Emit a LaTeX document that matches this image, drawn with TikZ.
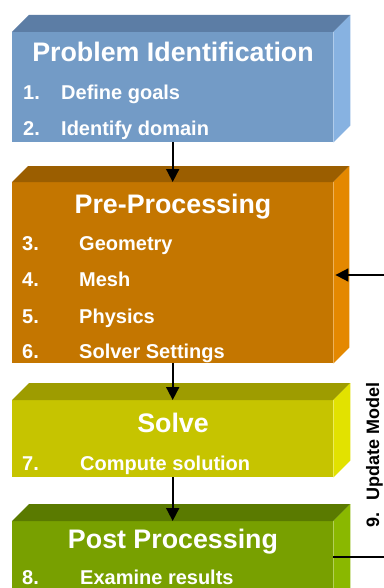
\documentclass[tikz,border=0pt]{standalone}
\usepackage{fontspec}
\setmainfont{Liberation Sans}
\usetikzlibrary{arrows.meta,calc}
\definecolor{bluefront}{HTML}{739BC6}
\definecolor{bluetop}{HTML}{5C7DA5}
\definecolor{blueside}{HTML}{87B2E1}
\definecolor{orfront}{HTML}{C47600}
\definecolor{ortop}{HTML}{9B5E00}
\definecolor{orside}{HTML}{E48800}
\definecolor{yefront}{HTML}{C6C400}
\definecolor{yetop}{HTML}{9E9C00}
\definecolor{yeside}{HTML}{E2E200}
\definecolor{grfront}{HTML}{78A000}
\definecolor{grtop}{HTML}{5A7A00}
\definecolor{grside}{HTML}{8AB800}
\tikzset{
  x=1pt, y=-1pt,
  frontface/.style={rectangle, inner sep=0pt, minimum width=321pt, anchor=north west},
  titletext/.style={text=white, font=\fontsize{26.8}{30}\selectfont\bfseries, anchor=base, inner sep=0pt},
  itemtext/.style={text=white, font=\fontsize{20}{24}\selectfont\bfseries, anchor=base west, inner sep=0pt},
  flow/.style={line width=1.8pt, -{Triangle[width=13pt,length=13pt]}},
  labeltext/.style={font=\fontsize{18}{22}\selectfont\bfseries, text=black, inner sep=0pt},
}
% #1 node name, #2 top colour, #3 side colour, #4 depth
\newcommand{\boxfaces}[4]{%
  \fill[#2] (#1.north west) -- ++(#4,-#4) -- ($(#1.north east)+(#4,-#4)$) -- (#1.north east) -- cycle;
  \fill[#3] (#1.north east) -- ++(#4,-#4) -- ($(#1.south east)+(#4,-#4)$) -- (#1.south east) -- cycle;
}
\begin{document}
\begin{tikzpicture}
\useasboundingbox (0,0) rectangle (383,588);
\fill[white] (0,0) rectangle (383,588);

% Box 1
\node[frontface, fill=bluefront, minimum height=110pt] (b1) at (12,32) {};
\boxfaces{b1}{bluetop}{blueside}{17}
\node[titletext] (t1) at (173,62) {Problem Identification};
\node[itemtext] (n1) at (23,100) {1.};
\node[itemtext] (i1) at (61,100) {Define goals};
\node[itemtext] (n2) at (23,136) {2.};
\node[itemtext] (i2) at (61,136) {Identify domain};

% Box 2
\node[frontface, fill=orfront, minimum height=181pt] (b2) at (12,182) {};
\boxfaces{b2}{ortop}{orside}{16}
\node[titletext] (t2) at (173,213) {Pre-Processing};
\node[itemtext] (n3) at (22,250) {3.};
\node[itemtext] (i3) at (79,250) {Geometry};
\node[itemtext] (n4) at (22,286) {4.};
\node[itemtext] (i4) at (79,286) {Mesh};
\node[itemtext] (n5) at (22,323) {5.};
\node[itemtext] (i5) at (79,323) {Physics};
\node[itemtext] (n6) at (22,358) {6.};
\node[itemtext] (i6) at (79,358) {Solver Settings};

% Box 3
\node[frontface, fill=yefront, minimum height=77pt] (b3) at (12,400) {};
\boxfaces{b3}{yetop}{yeside}{17}
\node[titletext] (t3) at (173,432) {Solve};
\node[itemtext] (n7) at (22,470) {7.};
\node[itemtext] (i7) at (80,470) {Compute solution};

% Box 4
\node[frontface, fill=grfront, minimum height=100pt] (b4) at (12,521) {};
\boxfaces{b4}{grtop}{grside}{17}
\node[titletext] (t4) at (173,548) {Post Processing};
\node[itemtext] (n8) at (22,584) {8.};
\node[itemtext] (i8) at (80,584) {Examine results};

% Flow arrows
\draw[flow] (b1.south) -- (b2.north);
\draw[flow] (b2.south) -- (b3.north);
\draw[flow] (b3.south) -- (b4.north);

% Feedback loop
\coordinate (fb1) at (392,557);
\coordinate (fb2) at (392,275);
\draw[flow] (b4.east |- fb1) -- (fb1) -- (fb2) -- ([xshift=2pt]b2.east |- fb2);
\node[labeltext, rotate=90, anchor=base west] (lbl) at (379,528) {9.\hspace{12pt}Update Model};
\end{tikzpicture}
\end{document}
